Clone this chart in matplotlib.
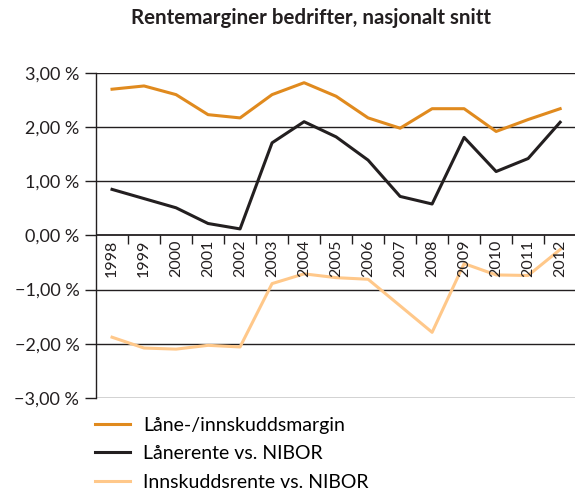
import matplotlib
matplotlib.use('Agg')
import matplotlib.pyplot as plt
import numpy as np

plt.rcParams['font.family'] = ['Lato', 'DejaVu Sans']

years = ['1998', '1999', '2000', '2001', '2002', '2003', '2004', '2005',
         '2006', '2007', '2008', '2009', '2010', '2011', '2012']
margin = [2.70, 2.76, 2.60, 2.23, 2.17, 2.60, 2.82, 2.57, 2.17, 1.98,
          2.34, 2.34, 1.92, 2.14, 2.34]
laan_nibor = [0.85, 0.68, 0.51, 0.22, 0.12, 1.71, 2.10, 1.82, 1.39, 0.72,
              0.58, 1.81, 1.18, 1.42, 2.09]
innskudd_nibor = [-1.88, -2.08, -2.10, -2.03, -2.06, -0.89, -0.71, -0.78,
                  -0.81, -1.30, -1.79, -0.52, -0.73, -0.74, -0.26]
labels = ['Låne-/innskuddsmargin', 'Lånerente vs. NIBOR', 'Innskuddsrente vs. NIBOR']
colors = ['#E08A1E', '#231F20', '#FFC88A']
yticks = [3, 2, 1, 0, -1, -2, -3]

fig = plt.figure(figsize=(5.75, 4.93), dpi=100)
ax = fig.add_axes([0.167, 0.193, 0.835, 0.659])

x = np.arange(len(years))
for vals, lab, col in zip([margin, laan_nibor, innskudd_nibor], labels, colors):
    ax.plot(x, vals, color=col, lw=2.2, label=lab, zorder=3)

ax.set_xlim(-0.5, len(years) - 0.5)
ax.set_ylim(-3, 3)
ax.set_yticks(yticks)
ax.set_yticklabels([('%.2f %%' % v).replace('.', ',').replace('-', '\u2212') for v in yticks],
                   fontsize=13, color='#231F20')
ax.tick_params(axis='y', length=8, width=1, color='#231F20', pad=4)
ax.set_xticks([])

for yv in yticks:
    ax.axhline(yv, color='#231F20', lw=1.0 if yv != 0 else 1.3, zorder=1)

# category separators on the zero line
ax.vlines(x[:-1] + 0.5, -0.15, 0, color='#231F20', lw=1.0, zorder=2)
for xi, yr in zip(x, years):
    ax.text(xi, -0.08, yr, rotation=90, ha='center', va='top',
            fontsize=11.5, color='#231F20', zorder=4)

for s in ['top', 'right', 'bottom']:
    ax.spines[s].set_visible(False)
ax.spines['left'].set_color('#231F20')
ax.spines['left'].set_linewidth(1.0)

fig.text(0.541, 0.963, 'Rentemarginer bedrifter, nasjonalt snitt',
         ha='center', va='center', fontsize=14.8, fontweight='bold', color='#231F20')

ax.legend(loc='upper left', bbox_to_anchor=(-0.018, -0.035), frameon=False,
          fontsize=14, handlelength=1.8, handletextpad=0.67, labelspacing=0.58,
          borderaxespad=0)

fig.savefig('out.png', dpi=100)
